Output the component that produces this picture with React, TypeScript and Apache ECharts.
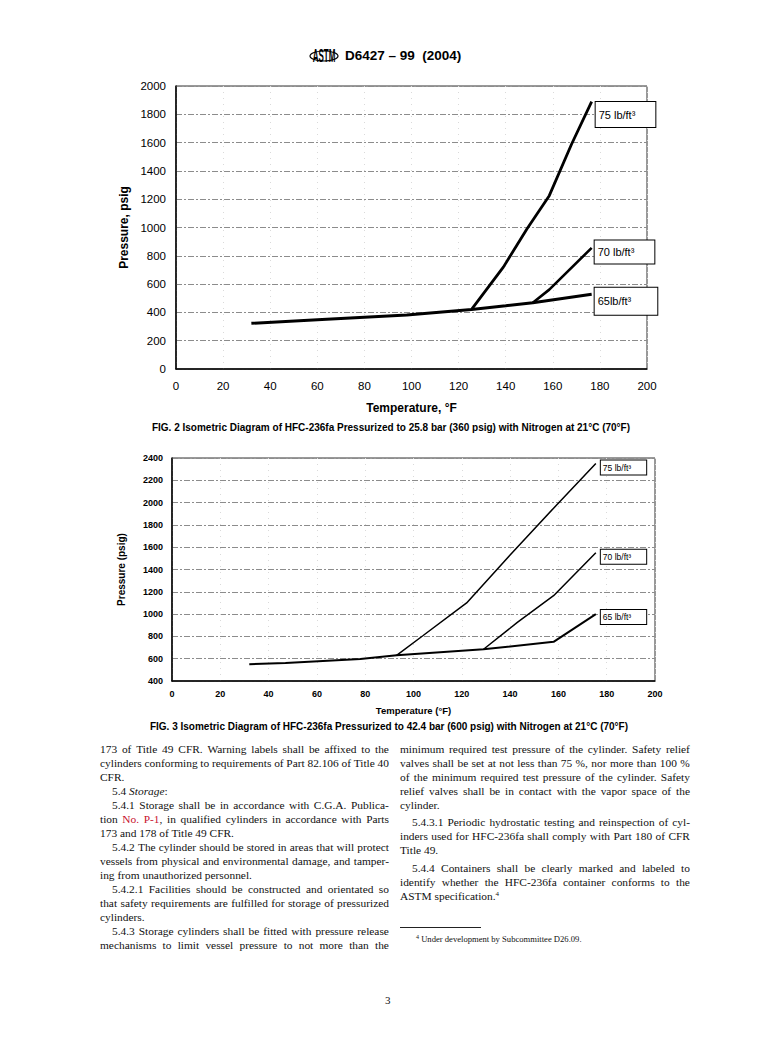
import React, { useEffect, useRef } from "react";
import * as echarts from "echarts";

// ---------- Data ----------
// FIG. 2 (25.8 bar / 360 psig)
const f2Temp65 = [32, 62, 98, 125.5, 140, 151.5, 176.5];
const f2Pres65 = [323, 350, 381, 421, 447, 468, 529];
const f2Temp70 = [151.5, 158.5, 176.5];
const f2Pres70 = [468, 561, 856];
const f2Temp75 = [125.5, 139, 149, 158.5, 168, 176.5];
const f2Pres75 = [421, 720, 990, 1225, 1590, 1890];

// FIG. 3 (42.4 bar / 600 psig)
const f3Temp65 = [32, 47, 78, 93, 129, 158, 175.5];
const f3Pres65 = [550, 562, 598, 630, 685, 751, 1000];
const f3Temp70 = [129, 143, 158, 175.5];
const f3Pres70 = [685, 925, 1165, 1551];
const f3Temp75 = [93, 104, 122, 140, 158, 175.5];
const f3Pres75 = [630, 808, 1100, 1530, 1950, 2350];

const f2Labels = ["65lb/ft³", "70 lb/ft³", "75 lb/ft³"];
const f3Labels = ["65 lb/ft³", "70 lb/ft³", "75 lb/ft³"];

const tempRange = [0, 200, 20];
const f2PresRange = [0, 2000, 200];
const f3PresRange = [400, 2400, 200];

const zip = (a: number[], b: number[]) => a.map((v, i) => [v, b[i]]);

const SANS = '"Liberation Sans", Arial, Helvetica, sans-serif';
const SERIF = '"Liberation Serif", "Times New Roman", Times, serif';

// ---------- Body text ----------
type Line = { t: string; j: boolean; ind?: boolean; y: number };
const leftLines: Line[] = [
  { t: "173 of Title 49 CFR. Warning labels shall be affixed to the", j: true, y: 749 },
  { t: "cylinders conforming to requirements of Part 82.106 of Title 40", j: true, y: 763 },
  { t: "CFR.", j: false, y: 777 },
  { t: "5.4 *Storage*:", j: false, ind: true, y: 791 },
  { t: "5.4.1 Storage shall be in accordance with C.G.A. Publica-", j: true, ind: true, y: 805 },
  { t: "tion No. P-1, in qualified cylinders in accordance with Parts", j: true, y: 819 },
  { t: "173 and 178 of Title 49 CFR.", j: false, y: 833 },
  { t: "5.4.2 The cylinder should be stored in areas that will protect", j: true, ind: true, y: 847 },
  { t: "vessels from physical and environmental damage, and tamper-", j: true, y: 861 },
  { t: "ing from unauthorized personnel.", j: false, y: 875 },
  { t: "5.4.2.1 Facilities should be constructed and orientated so", j: true, ind: true, y: 889 },
  { t: "that safety requirements are fulfilled for storage of pressurized", j: true, y: 903 },
  { t: "cylinders.", j: false, y: 917 },
  { t: "5.4.3 Storage cylinders shall be fitted with pressure release", j: true, ind: true, y: 931 },
  { t: "mechanisms to limit vessel pressure to not more than the", j: true, y: 945 },
];
const rightLines: Line[] = [
  { t: "minimum required test pressure of the cylinder. Safety relief", j: true, y: 749 },
  { t: "valves shall be set at not less than 75 %, nor more than 100 %", j: true, y: 763 },
  { t: "of the minimum required test pressure of the cylinder. Safety", j: true, y: 777 },
  { t: "relief valves shall be in contact with the vapor space of the", j: true, y: 791 },
  { t: "cylinder.", j: false, y: 805 },
  { t: "5.4.3.1 Periodic hydrostatic testing and reinspection of cyl-", j: true, ind: true, y: 822 },
  { t: "inders used for HFC-236fa shall comply with Part 180 of CFR", j: true, y: 836 },
  { t: "Title 49.", j: false, y: 850 },
  { t: "5.4.4 Containers shall be clearly marked and labeled to", j: true, ind: true, y: 868 },
  { t: "identify whether the HFC-236fa container conforms to the", j: true, y: 882 },
  { t: "ASTM specification.^4", j: false, y: 896 },
];

function Token({ w }: { w: string }) {
  if (w === "No.") return <span style={{ color: "#c8102e" }}>No.</span>;
  if (w === "P-1,")
    return (
      <span>
        <span style={{ color: "#c8102e" }}>P-1</span>,
      </span>
    );
  if (w.startsWith("*")) {
    const m = w.match(/^\*(.*)\*(.*)$/);
    if (m)
      return (
        <span>
          <i>{m[1]}</i>
          {m[2]}
        </span>
      );
  }
  if (w.includes("^")) {
    const [a, b] = w.split("^");
    return (
      <span>
        {a}
        <sup style={{ fontSize: "7px", verticalAlign: "4px", lineHeight: 0 }}>{b}</sup>
      </span>
    );
  }
  return <span>{w}</span>;
}

function Column({ lines, x, w }: { lines: Line[]; x: number; w: number }) {
  return (
    <>
      {lines.map((l, i) => {
        const left = x + (l.ind ? 12 : 0);
        const width = w - (l.ind ? 12 : 0);
        const words = l.t.split(" ");
        const base: React.CSSProperties = {
          position: "absolute",
          left,
          top: l.y - 7,
          height: 14,
          lineHeight: "14px",
          fontSize: "11.4px",
          fontFamily: SERIF,
          color: "#111",
          whiteSpace: "nowrap",
        };
        if (l.j) {
          return (
            <div key={i} style={{ ...base, width, display: "flex", justifyContent: "space-between" }}>
              {words.map((wd, k) => (
                <Token key={k} w={wd} />
              ))}
            </div>
          );
        }
        return (
          <div key={i} style={base}>
            {words.map((wd, k) => (
              <React.Fragment key={k}>
                {k > 0 ? " " : ""}
                <Token w={wd} />
              </React.Fragment>
            ))}
          </div>
        );
      })}
    </>
  );
}

function makeEndLabel(text: string, fs: number, pad: number[], offY: number, dist: number) {
  return {
    show: true,
    formatter: text,
    fontFamily: SANS,
    fontSize: fs,
    color: "#000",
    backgroundColor: "#fff",
    borderColor: "#000",
    borderWidth: 1,
    padding: pad,
    distance: dist,
    offset: [0, offY],
  };
}

const plain = (v: number) => String(v);

export default function App() {
  const ref = useRef<HTMLDivElement>(null);

  useEffect(() => {
    if (!ref.current) return;
    const chart = echarts.init(ref.current, undefined, { renderer: "svg" });

    const hSplit = { show: true, lineStyle: { color: "#8c8c8c", type: [6, 2, 2, 2], width: 1 } };
    const vSplit = { show: true, lineStyle: { color: "#dadada", type: [1, 5], width: 1 } };

    const option: any = {
      animation: false,
      backgroundColor: "#fff",
      grid: [
        { left: 176, top: 86, width: 471, height: 283, show: true, borderColor: "#333", borderWidth: 1, backgroundColor: "rgba(0,0,0,0)" },
        { left: 172, top: 458, width: 483, height: 223, show: true, borderColor: "#333", borderWidth: 1, backgroundColor: "rgba(0,0,0,0)" },
      ],
      xAxis: [
        {
          gridIndex: 0,
          type: "value",
          min: tempRange[0],
          max: tempRange[1],
          interval: tempRange[2],
          name: "Temperature, °F",
          nameLocation: "middle",
          nameGap: 33,
          nameTextStyle: { fontFamily: SANS, fontSize: 12, fontWeight: "bold", color: "#000" },
          axisLine: { show: true, onZero: false, lineStyle: { color: "#000", width: 1.5 } },
          axisTick: { show: false },
          axisLabel: { fontFamily: SANS, fontSize: 11.5, color: "#000", margin: 11, formatter: plain },
          splitLine: vSplit,
        },
        {
          gridIndex: 1,
          type: "value",
          min: tempRange[0],
          max: tempRange[1],
          interval: tempRange[2],
          name: "Temperature (°F)",
          nameLocation: "middle",
          nameGap: 24,
          nameTextStyle: { fontFamily: SANS, fontSize: 9.5, fontWeight: "bold", color: "#000" },
          axisLine: { show: true, onZero: false, lineStyle: { color: "#000", width: 1.5 } },
          axisTick: { show: false },
          axisLabel: { fontFamily: SANS, fontSize: 9, fontWeight: "bold", color: "#000", margin: 8, formatter: plain },
          splitLine: vSplit,
        },
      ],
      yAxis: [
        {
          gridIndex: 0,
          type: "value",
          min: f2PresRange[0],
          max: f2PresRange[1],
          interval: f2PresRange[2],
          name: "Pressure, psig",
          nameLocation: "middle",
          nameGap: 33,
          nameRotate: 90,
          nameTextStyle: { fontFamily: SANS, fontSize: 12, fontWeight: "bold", color: "#000" },
          axisLine: { show: true, onZero: false, lineStyle: { color: "#000", width: 1.5 } },
          axisTick: { show: false },
          axisLabel: { fontFamily: SANS, fontSize: 11.5, color: "#000", margin: 10, formatter: plain },
          splitLine: hSplit,
        },
        {
          gridIndex: 1,
          type: "value",
          min: f3PresRange[0],
          max: f3PresRange[1],
          interval: f3PresRange[2],
          name: "Pressure (psig)",
          nameLocation: "middle",
          nameGap: 46,
          nameRotate: 90,
          nameTextStyle: { fontFamily: SANS, fontSize: 10, fontWeight: "bold", color: "#000" },
          axisLine: { show: true, onZero: false, lineStyle: { color: "#000", width: 1.5 } },
          axisTick: { show: false },
          axisLabel: { fontFamily: SANS, fontSize: 9, fontWeight: "bold", color: "#000", margin: 9, formatter: plain },
          splitLine: hSplit,
        },
      ],
      series: [
        {
          type: "line", xAxisIndex: 0, yAxisIndex: 0, data: zip(f2Temp65, f2Pres65), symbol: "none",
          lineStyle: { color: "#000", width: 3 }, z: 3,
          endLabel: makeEndLabel(f2Labels[0], 11, [3, 26, 13, 3], 7, 3),
        },
        {
          type: "line", xAxisIndex: 0, yAxisIndex: 0, data: zip(f2Temp70, f2Pres70), symbol: "none",
          lineStyle: { color: "#000", width: 2.6 }, z: 3,
          endLabel: makeEndLabel(f2Labels[1], 11, [3, 20, 9, 3], 4, 3),
        },
        {
          type: "line", xAxisIndex: 0, yAxisIndex: 0, data: zip(f2Temp75, f2Pres75), symbol: "none",
          lineStyle: { color: "#000", width: 2.8 }, z: 3,
          endLabel: makeEndLabel(f2Labels[2], 11, [3, 20, 11, 3], 13, 4),
        },
        {
          type: "line", xAxisIndex: 1, yAxisIndex: 1, data: zip(f3Temp65, f3Pres65), symbol: "none",
          lineStyle: { color: "#000", width: 2 }, z: 3,
          endLabel: makeEndLabel(f3Labels[0], 8.5, [2, 15, 3, 2], 3, 5),
        },
        {
          type: "line", xAxisIndex: 1, yAxisIndex: 1, data: zip(f3Temp70, f3Pres70), symbol: "none",
          lineStyle: { color: "#000", width: 1.5 }, z: 3,
          endLabel: makeEndLabel(f3Labels[1], 8.5, [2, 15, 3, 2], 4, 5),
        },
        {
          type: "line", xAxisIndex: 1, yAxisIndex: 1, data: zip(f3Temp75, f3Pres75), symbol: "none",
          lineStyle: { color: "#000", width: 1.5 }, z: 3,
          endLabel: makeEndLabel(f3Labels[2], 8.5, [2, 15, 3, 2], 4, 5),
        },
      ],
      graphic: [
        // ASTM logo (approximation)
        {
          type: "group",
          x: 324,
          y: 56,
          children: [
            { type: "ellipse", shape: { cx: 0, cy: 0, rx: 14, ry: 5 }, style: { fill: "none", stroke: "#000", lineWidth: 1.2 } },
            { type: "text", x: 0, y: 0, scaleY: 2.2, style: { text: "ASTM", font: `bold 8px ${SANS}`, fill: "#000", align: "center", verticalAlign: "middle" } },
          ],
        },
        {
          type: "text",
          left: 345,
          top: 48,
          style: { text: "D6427 – 99  (2004)", font: `bold 13.5px ${SANS}`, fill: "#000" },
        },
        {
          type: "text",
          x: 391,
          y: 427,
          style: {
            text: "FIG. 2 Isometric Diagram of HFC-236fa Pressurized to 25.8 bar (360 psig) with Nitrogen at 21°C (70°F)",
            font: `bold 10px ${SANS}`,
            fill: "#000",
            align: "center",
            verticalAlign: "middle",
          },
        },
        {
          type: "text",
          x: 389,
          y: 726,
          style: {
            text: "FIG. 3 Isometric Diagram of HFC-236fa Pressurized to 42.4 bar (600 psig) with Nitrogen at 21°C (70°F)",
            font: `bold 10px ${SANS}`,
            fill: "#000",
            align: "center",
            verticalAlign: "middle",
          },
        },
      ],
    };

    chart.setOption(option);
    return () => chart.dispose();
  }, []);

  return (
    <div style={{ position: "absolute", left: 0, top: 0, width: 778, height: 1041, background: "#fff", overflow: "hidden" }}>
      <div ref={ref} style={{ position: "absolute", left: 0, top: 0, width: 778, height: 740 }} />
      <Column lines={leftLines} x={100} w={289} />
      <Column lines={rightLines} x={400} w={290} />
      <div style={{ position: "absolute", left: 400, top: 927, width: 81, height: 0, borderTop: "1px solid #222" }} />
      <div
        style={{
          position: "absolute",
          left: 416,
          top: 934,
          fontSize: "8.6px",
          lineHeight: "11px",
          fontFamily: SERIF,
          color: "#111",
          whiteSpace: "nowrap",
        }}
      >
        <sup style={{ fontSize: "6px", verticalAlign: "3px", lineHeight: 0 }}>4</sup> Under development by Subcommittee D26.09.
      </div>
      <div
        style={{
          position: "absolute",
          left: 385,
          top: 993,
          fontSize: "11px",
          lineHeight: "14px",
          fontFamily: SERIF,
          color: "#111",
        }}
      >
        3
      </div>
    </div>
  );
}
